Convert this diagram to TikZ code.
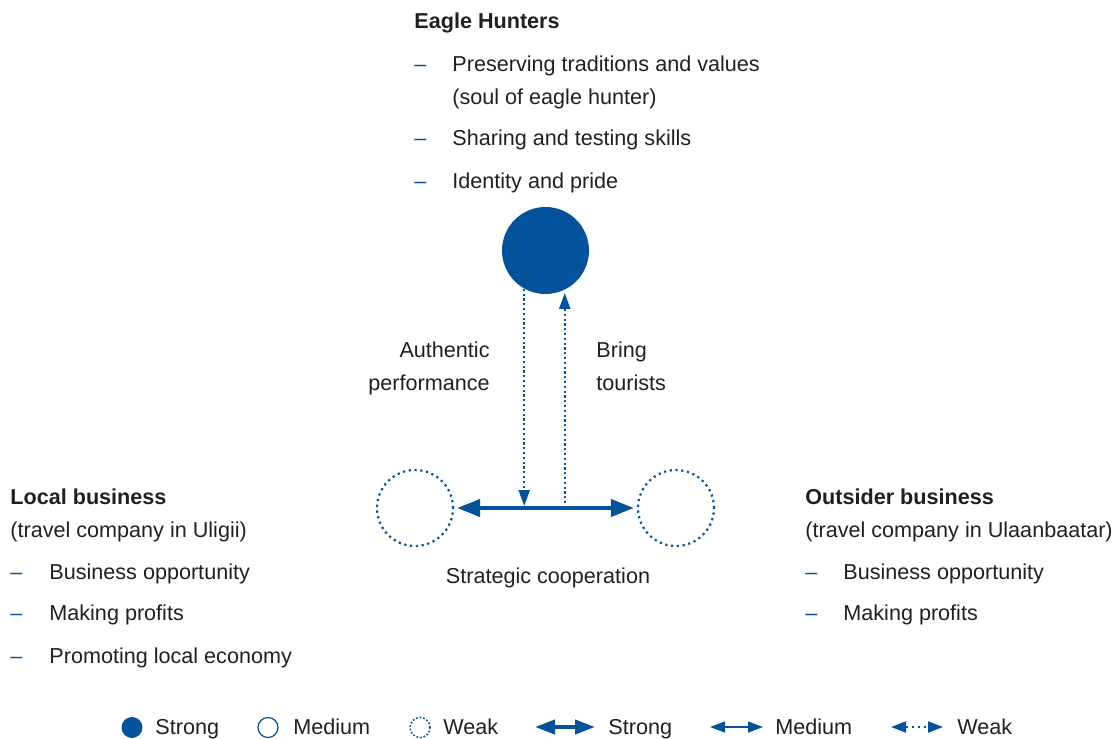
\documentclass[tikz,border=0pt]{standalone}
\usepackage{fontspec}
\setmainfont{Liberation Sans}
\usepackage{xcolor}
\usetikzlibrary{arrows.meta, positioning}
\definecolor{hunterblue}{HTML}{03529C}
\definecolor{inkgray}{HTML}{231F20}
\tikzset{
    strongcirc/.style={
        circle,
        fill=hunterblue,
        inner sep=0pt,
        minimum size=43.5pt,
    },
    mediumcirc/.style={
        circle,
        draw=hunterblue,
        line width=0.6pt,
        inner sep=0pt,
        minimum size=10pt,
    },
    weakcirc/.style={
        circle,
        draw=hunterblue,
        line width=1.1pt,
        dash pattern=on 1.1pt off 1.8pt,
        inner sep=0pt,
        minimum size=38pt,
    },
    txt/.style={
        inner sep=0pt,
        anchor=base west,
        text=inkgray,
        font=\fontsize{10.8}{13}\selectfont,
    },
    hdr/.style={
        txt,
        font=\fontsize{10.8}{13}\selectfont\bfseries,
    },
    itemdash/.style={
        txt,
        text=hunterblue,
    },
    strongarrow/.style={
        {Triangle[length=11.5pt,width=8.5pt]}-{Triangle[length=11.5pt,width=8.5pt]},
        draw=hunterblue,
        line width=2pt,
    },
    weakarrow/.style={
        -{Triangle[length=8pt,width=5.5pt]},
        draw=hunterblue,
        line width=1.1pt,
        dash pattern=on 1.1pt off 1.3pt,
    },
}

\begin{document}
\begin{tikzpicture}[x=0.5pt, y=-0.5pt]
    \useasboundingbox (0,0) rectangle (1120,739);

    % the three actors
    \node[strongcirc] (eagle) at (545.5,250.5) {};
    \node[weakcirc] (local) at (415,508) {};
    \node[weakcirc] (outsider) at (676,508) {};

    \draw[strongarrow, shorten <=1.5pt, shorten >=1.5pt] (local) -- (outsider);
    \draw[weakarrow, shorten >=1pt] (eagle.-119.6) -- (eagle.-119.6 |- local);
    \draw[weakarrow, shorten >=1.5pt] (eagle.-64.8 |- local) -- (eagle.-64.8);

    \node[txt, anchor=base east] (perf1) at (490,357) {Authentic};
    \node[txt, anchor=base east] (perf2) at (490,390) {performance};
    \node[txt] (tour1) at (596,357) {Bring};
    \node[txt] (tour2) at (596,390) {tourists};
    \node[txt, anchor=base] (coop) at (548,583.5) {Strategic cooperation};

    % eagle hunters
    \node[hdr] (eagletitle) at (414,28) {Eagle Hunters};
    \node[itemdash] (ed1) at (414,71) {–};
    \node[txt] (ei1) at (452,71) {Preserving traditions and values};
    \node[txt] (ei1b) at (452,104) {(soul of eagle hunter)};
    \node[itemdash] (ed2) at (414,145) {–};
    \node[txt] (ei2) at (452,145) {Sharing and testing skills};
    \node[itemdash] (ed3) at (414,188) {–};
    \node[txt] (ei3) at (452,188) {Identity and pride};

    % local business
    \node[hdr] (localtitle) at (10,504) {Local business};
    \node[txt] (localsub) at (10,537) {(travel company in Uligii)};
    \node[itemdash] (ld1) at (10,579) {–};
    \node[txt] (li1) at (49,579) {Business opportunity};
    \node[itemdash] (ld2) at (10,620) {–};
    \node[txt] (li2) at (49,620) {Making profits};
    \node[itemdash] (ld3) at (10,663) {–};
    \node[txt] (li3) at (49,663) {Promoting local economy};

    % outsider business
    \node[hdr] (outtitle) at (805,504) {Outsider business};
    \node[txt] (outsub) at (805,537) {(travel company in Ulaanbaatar)};
    \node[itemdash] (od1) at (805,579) {–};
    \node[txt] (oi1) at (843,579) {Business opportunity};
    \node[itemdash] (od2) at (805,620) {–};
    \node[txt] (oi2) at (843,620) {Making profits};

    % legend
    \node[strongcirc, minimum size=10.5pt] (kstrong) at (132,727.5) {};
    \node[txt] (kstrongtxt) at (155,734.5) {Strong};
    \node[mediumcirc] (kmedium) at (268,727.5) {};
    \node[txt] (kmediumtxt) at (293,734.5) {Medium};
    \node[weakcirc, minimum size=10pt, line width=0.8pt, dash pattern=on 0.8pt off 1pt] (kweak) at (420,727.5) {};
    \node[txt] (kweaktxt) at (443,734.5) {Weak};

    \coordinate (ksa) at (535,727);
    \coordinate (ksb) at (595,727);
    \draw[hunterblue, line width=2pt, {Triangle[length=10pt,width=7pt]}-{Triangle[length=10pt,width=7pt]}] (ksa) -- (ksb);
    \node[txt] (kstrongarr) at (608,734.5) {Strong};
    \coordinate (kma) at (710,727);
    \coordinate (kmb) at (763,727);
    \draw[hunterblue, line width=0.8pt, {Triangle[length=7.5pt,width=5.5pt]}-{Triangle[length=7.5pt,width=5.5pt]}] (kma) -- (kmb);
    \node[txt] (kmediumarr) at (775,734.5) {Medium};
    \coordinate (kwa) at (891,727);
    \coordinate (kwb) at (943,727);
    \draw[hunterblue, line width=1pt, dash pattern=on 1pt off 2pt, {Triangle[length=7.5pt,width=5.5pt]}-{Triangle[length=7.5pt,width=5.5pt]}] (kwa) -- (kwb);
    \node[txt] (kweakarr) at (957,734.5) {Weak};
\end{tikzpicture}
\end{document}
